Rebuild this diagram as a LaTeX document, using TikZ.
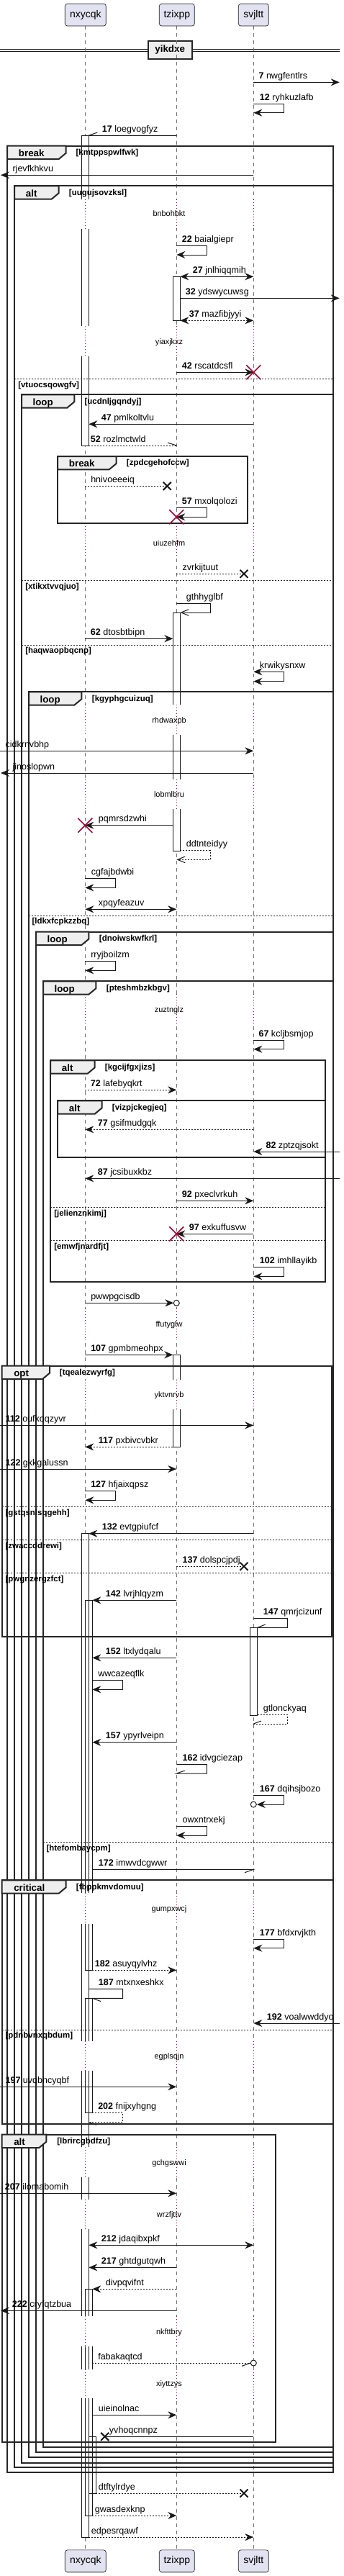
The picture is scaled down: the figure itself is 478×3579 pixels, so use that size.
\documentclass[tikz,border=0pt]{standalone}
\usepackage{fontspec}
\setmainfont{Liberation Sans}
\usetikzlibrary{arrows.meta}
\definecolor{linec}{HTML}{181818}
\definecolor{partfill}{HTML}{E2E2F0}
\definecolor{tabfill}{HTML}{EEEEEE}
\definecolor{crimson}{HTML}{A80036}
\begin{document}
\begin{tikzpicture}[x=0.75pt,y=-0.75pt,
    lbl/.style={anchor=base west,inner sep=0pt,font=\fontsize{9.4}{11}\selectfont},
    cond/.style={anchor=base west,inner sep=0pt,font=\bfseries\fontsize{8.6}{10}\selectfont},
    tablbl/.style={anchor=base west,inner sep=0pt,font=\bfseries\fontsize{10}{12}\selectfont},
    delaytxt/.style={anchor=base,inner sep=0pt,font=\fontsize{8.2}{10}\selectfont},
    part/.style={draw=linec,line width=0.5pt,fill=partfill,rounded corners=2.5pt,
        minimum height=23pt,inner sep=0pt,font=\fontsize{10.5}{12}\selectfont},
    msg/.style={draw=linec,line width=0.75pt},
    ret/.style={msg,dash pattern=on 1.5pt off 1.5pt},
    life/.style={draw=black!55,line width=0.6pt,dash pattern=on 3.75pt off 3.75pt},
    wait/.style={draw=crimson,line width=0.7pt,dash pattern=on 0.75pt off 2.25pt},
    frame/.style={draw=black!85,line width=1.5pt},
    tab/.style={frame,fill=tabfill},
    elseline/.style={draw=black!85,line width=0.75pt,dash pattern=on 1.5pt off 1.5pt},
    act/.style={draw=linec,line width=0.75pt},
    lost/.style={draw=linec,line width=1.5pt},
    kill/.style={draw=crimson,line width=1.2pt},
    circ/.style={draw=linec,line width=0.75pt,fill=white},
    openhead/.style={-{Straight Barb[length=8pt,width=6.5pt]}},
    >={Stealth[length=9pt,width=7.5pt,inset=3pt]}]
\useasboundingbox (0,0) rectangle (478,3579);

% divider
\draw[msg] (0,68.3) -- (471.7,68.3) (0,71.3) -- (471.7,71.3);
\draw[tab] (205.7,57.3) rectangle (266.7,81.7);
\node[inner sep=0pt,font=\bfseries\fontsize{10}{12}\selectfont] (yikdxe) at (236.2,69.5) {yikdxe};

% lifelines and delays
\draw[life] (118.3,36) -- (118.3,3542.3);
\draw[life] (245.3,36) -- (245.3,3542.3);
\draw[life] (352.3,36) -- (352.3,3542.3);
\foreach \a/\b/\t/\w in {276.7/318.3/297/bnbohbkt,453.3/495/475/yiaxjkxz,
    726.7/773.3/755/uiuzehfm,979.3/1021/1001/rhdwaxpb,1082.7/1124/1104/lobmlbru,
    1381.3/1423/1403.3/zuztnglz,1818/1860/1840/ffutyglw,1916.7/1958.3/1938.3/yktvnrvb,
    2630/2672.7/2652.3/gumpxwcj,2836/2877.3/2857.3/egplsqjn,2983.3/3025/3005/gchgswwi,
    3055.7/3097.3/3077.3/wrzfjttv,3218.3/3260/3240/nkfttbry,3291.7/3332.3/3312.3/xiyttzys}{
  \foreach \x in {118.3,245.3,352.3}{
    \fill[white] (\x-2,\a) rectangle (\x+2,\b);
    \draw[wait] (\x,\a) -- (\x,\b);
  }
  \node[delaytxt] (\w) at (235,\t+3.5) {\w};
}

% activations
\fill[white] (113.3,188.3) rectangle (123.3,276.7) (113.3,318.3) rectangle (123.3,453.3)
  (113.3,495) rectangle (123.3,619);
\draw[act] (113.3,276.7) -- (113.3,188.3) -- (123.3,188.3) -- (123.3,276.7);
\draw[act] (113.3,318.3) -- (113.3,453.3) (123.3,318.3) -- (123.3,453.3);
\draw[act] (113.3,495) -- (113.3,619) -- (123.3,619) -- (123.3,495);
\draw[act,fill=white] (240.3,384.3) rectangle (250.3,445.3);
\fill[white] (240.3,851) rectangle (250.3,979.3) (240.3,1021) rectangle (250.3,1082.7)
  (240.3,1124) rectangle (250.3,1182.3);
\draw[act] (240.3,979.3) -- (240.3,851) -- (250.3,851) -- (250.3,979.3);
\draw[act] (240.3,1021) -- (240.3,1082.7) (250.3,1021) -- (250.3,1082.7);
\draw[act] (240.3,1124) -- (240.3,1182.3) -- (250.3,1182.3) -- (250.3,1124);
\fill[white] (240.3,1882.3) rectangle (250.3,1916.7) (240.3,1958.3) rectangle (250.3,2010.3);
\draw[act] (240.3,1916.7) -- (240.3,1882.3) -- (250.3,1882.3) -- (250.3,1916.7);
\draw[act] (240.3,1958.3) -- (240.3,2010.3) -- (250.3,2010.3) -- (250.3,1958.3);
\draw[act,fill=white] (347.7,2261.3) rectangle (357.7,2383);
\fill[white] (113.3,2130.7) rectangle (123.3,2630) (113.3,2672.7) rectangle (123.3,2836)
  (113.3,2877.3) rectangle (123.3,2983.3) (113.3,3025) rectangle (123.3,3055.7)
  (113.3,3097.3) rectangle (123.3,3218.3) (113.3,3260) rectangle (123.3,3291.7)
  (113.3,3332.3) rectangle (123.3,3525);
\fill[white] (118.3,2223.3) rectangle (128.3,2630) (118.3,2672.7) rectangle (128.3,2737.3)
  (118.3,2776.3) rectangle (128.3,2836) (118.3,2877.3) rectangle (128.3,2935.7)
  (118.3,3180.3) rectangle (128.3,3218.3) (118.3,3260) rectangle (128.3,3291.7)
  (118.3,3332.3) rectangle (128.3,3495) (123.3,3385.3) rectangle (133.3,3464);
\draw[act] (113.3,2630) -- (113.3,2130.7) -- (123.3,2130.7) -- (123.3,2630);
\draw[act] (113.3,2672.7) -- (113.3,2836) (123.3,2672.7) -- (123.3,2836);
\draw[act] (113.3,2877.3) -- (113.3,2983.3) (123.3,2877.3) -- (123.3,2983.3);
\draw[act] (113.3,3025) -- (113.3,3055.7) (123.3,3025) -- (123.3,3055.7);
\draw[act] (113.3,3097.3) -- (113.3,3218.3) (123.3,3097.3) -- (123.3,3218.3);
\draw[act] (113.3,3260) -- (113.3,3291.7) (123.3,3260) -- (123.3,3291.7);
\draw[act] (113.3,3332.3) -- (113.3,3525) -- (123.3,3525) -- (123.3,3332.3);
\draw[act] (118.3,2630) -- (118.3,2223.3) -- (128.3,2223.3) -- (128.3,2630);
\draw[act] (118.3,2672.7) -- (118.3,2737.3) -- (128.3,2737.3) -- (128.3,2672.7);
\draw[act] (118.3,2836) -- (118.3,2776.3) -- (128.3,2776.3) -- (128.3,2836);
\draw[act] (118.3,2877.3) -- (118.3,2935.7) -- (128.3,2935.7) -- (128.3,2877.3);
\draw[act] (118.3,3218.3) -- (118.3,3180.3) -- (128.3,3180.3) -- (128.3,3218.3);
\draw[act] (118.3,3260) -- (118.3,3291.7) (128.3,3260) -- (128.3,3291.7);
\draw[act] (118.3,3332.3) -- (118.3,3495) -- (128.3,3495) -- (128.3,3332.3);
\draw[act] (123.3,3385.3) rectangle (133.3,3464);

% groups
\draw[frame] (10,202.7) rectangle (462.7,3435.3);
\draw[tab] (10,202.7) -- (91.7,202.7) -- (91.7,212.7) -- (81.7,221) -- (10,221) -- cycle;
\node[tablbl] (break1) at (25.7,217.3) {break};
\node[cond] (kmtppspwlfwk) at (105.3,215.3) {[kmtppspwlfwk]};

\draw[frame] (20,258.3) rectangle (462.7,3428.3);
\draw[tab] (20,258.3) -- (81.7,258.3) -- (81.7,268.3) -- (71.7,276.6) -- (20,276.6) -- cycle;
\node[tablbl] (alt1) at (35.7,273) {alt};
\node[cond] (uugujsovzksl) at (95.7,271) {[uugujsovzksl]};
\draw[elseline] (20,526.3) -- (462.7,526.3);
\node[cond] (vtuocsqowgfv) at (25,538) {[vtuocsqowgfv]};

\draw[frame] (30,548.3) rectangle (462.7,3421.7);
\draw[tab] (30,548.3) -- (103.3,548.3) -- (103.3,558.3) -- (93.3,566.6) -- (30,566.6) -- cycle;
\node[tablbl] (loop1) at (45.3,563) {loop};
\node[cond] (ucdnljgqndyj) at (117.3,561) {[ucdnljgqndyj]};
\draw[elseline] (30,806.3) -- (462.7,806.3);
\node[cond] (xtikxtvvqjuo) at (35,818) {[xtikxtvvqjuo]};
\draw[elseline] (30,896) -- (462.7,896);
\node[cond] (haqwaopbqcnp) at (35,907.7) {[haqwaopbqcnp]};

\draw[frame] (80,634) rectangle (344.3,726.7);
\draw[tab] (80,634) -- (161.7,634) -- (161.7,644) -- (151.7,652.3) -- (80,652.3) -- cycle;
\node[tablbl] (break2) at (95.7,648.7) {break};
\node[cond] (zpdcgehofccw) at (175.7,646.7) {[zpdcgehofccw]};

\draw[frame] (40,961.3) rectangle (462.7,3414.3);
\draw[tab] (40,961.3) -- (113.3,961.3) -- (113.3,971.3) -- (103.3,979.6) -- (40,979.6) -- cycle;
\node[tablbl] (loop2) at (55.3,976) {loop};
\node[cond] (kgyphgcuizuq) at (127.7,974) {[kgyphgcuizuq]};
\draw[elseline] (40,1272) -- (462.7,1272);
\node[cond] (ldkxfcpkzzbq) at (44.3,1283.7) {[ldkxfcpkzzbq]};

\draw[frame] (50,1294.7) rectangle (462.7,3407.3);
\draw[tab] (50,1294.7) -- (123.3,1294.7) -- (123.3,1304.7) -- (113.3,1313) -- (50,1313) -- cycle;
\node[tablbl] (loop3) at (65.3,1309.4) {loop};
\node[cond] (dnoiwskwfkrl) at (137.7,1307.4) {[dnoiwskwfkrl]};

\draw[frame] (60,1363.3) rectangle (462.7,3400);
\draw[tab] (60,1363.3) -- (133.3,1363.3) -- (133.3,1373.3) -- (123.3,1381.6) -- (60,1381.6) -- cycle;
\node[tablbl] (loop4) at (75.3,1378) {loop};
\node[cond] (pteshmbzkbgv) at (147.7,1376) {[pteshmbzkbgv]};
\draw[elseline] (60,2559.3) -- (462.7,2559.3);
\node[cond] (htefombaycpm) at (64.3,2571) {[htefombaycpm]};

\draw[frame] (70,1473.3) rectangle (451.7,1781);
\draw[tab] (70,1473.3) -- (131.7,1473.3) -- (131.7,1483.3) -- (121.7,1491.6) -- (70,1491.6) -- cycle;
\node[tablbl] (alt2) at (85.7,1488) {alt};
\node[cond] (kgcijfgxjizs) at (145.7,1486) {[kgcijfgxjizs]};
\draw[elseline] (70,1677.3) -- (451.7,1677.3);
\node[cond] (jelienznkimj) at (75,1689) {[jelienznkimj]};
\draw[elseline] (70,1723.3) -- (451.7,1723.3);
\node[cond] (emwfjnardfjt) at (75,1735) {[emwfjnardfjt]};

\draw[frame] (80,1529.3) rectangle (451.7,1608.3);
\draw[tab] (80,1529.3) -- (141.7,1529.3) -- (141.7,1539.3) -- (131.7,1547.6) -- (80,1547.6) -- cycle;
\node[tablbl] (alt3) at (95.7,1544) {alt};
\node[cond] (vizpjckegjeq) at (155.7,1542) {[vizpjckegjeq]};

\draw[frame] (2.7,1897.7) rectangle (461,2273.7);
\draw[tab] (2.7,1897.7) -- (69,1897.7) -- (69,1907.7) -- (59,1916) -- (2.7,1916) -- cycle;
\node[tablbl] (opt1) at (19,1912.4) {opt};
\node[cond] (tqealezwyrfg) at (82.7,1910.4) {[tqealezwyrfg]};
\draw[elseline] (2.7,2093.3) -- (461,2093.3);
\node[cond] (gstqsnlsqgehh) at (7.3,2105) {[gstqsnlsqgehh]};
\draw[elseline] (2.7,2139.3) -- (461,2139.3);
\node[cond] (zwaccddrewi) at (7.3,2151) {[zwaccddrewi]};
\draw[elseline] (2.7,2185.3) -- (461,2185.3);
\node[cond] (pwgnzergzfct) at (7.3,2197) {[pwgnzergzfct]};

\draw[frame] (2.7,2612.3) rectangle (462.7,2950.7);
\draw[tab] (2.7,2612.3) -- (91.7,2612.3) -- (91.7,2622.3) -- (81.7,2630.6) -- (2.7,2630.6) -- cycle;
\node[tablbl] (critical1) at (19,2627) {critical};
\node[cond] (fbppkmvdomuu) at (105.7,2625) {[fbppkmvdomuu]};
\draw[elseline] (2.7,2820) -- (462.7,2820);
\node[cond] (pdnbvnxqbdum) at (7.3,2831.7) {[pdnbvnxqbdum]};

\draw[frame] (2.7,2965.7) rectangle (383.3,3393.3);
\draw[tab] (2.7,2965.7) -- (64.3,2965.7) -- (64.3,2975.7) -- (54.3,2984) -- (2.7,2984) -- cycle;
\node[tablbl] (alt4) at (19,2980.4) {alt};
\node[cond] (lbrircgbdfzu) at (79,2978.4) {[lbrircgbdfzu]};

% messages
\draw[msg,->] (352.3,114.3) -- (471.7,114.3);
\node[lbl] (nwgfentlrs) at (359.3,109.3) {\textbf{7} nwgfentlrs};
\draw[msg,->] (352.3,144.3) -- (394.3,144.3) -- (394.3,156.7) -- (352.3,156.7);
\node[lbl] (ryhkuzlafb) at (360.7,139.3) {\textbf{12} ryhkuzlafb};
\draw[msg] (245.3,188.3) -- (123.3,188.3) -- (135.3,184);
\node[lbl] (loegvogfyz) at (141.7,183.3) {\textbf{17} loegvogfyz};
\draw[msg,->] (352.3,243.3) -- (1,243.3);
\node[lbl] (rjevfkhkvu) at (17.3,238.3) {rjevfkhkvu};
\draw[msg,->] (245.3,341.7) -- (287.3,341.7) -- (287.3,354) -- (245.3,354);
\node[lbl] (baialgiepr) at (252.7,336.7) {\textbf{22} baialgiepr};
\draw[msg,<->] (250.3,384.3) -- (352.3,384.3);
\node[lbl] (jnlhiqqmih) at (267.7,379.3) {\textbf{27} jnlhiqqmih};
\draw[msg,->] (250.3,414.3) -- (471.7,414.3);
\node[lbl] (ydswycuwsg) at (257.7,409.3) {\textbf{32} ydswycuwsg};
\draw[ret,<->] (250.3,445.3) -- (352.3,445.3);
\node[lbl] (mazfibjyyi) at (262.7,440.3) {\textbf{37} mazfibjyyi};
\draw[msg,->] (245.3,517.3) -- (352.3,517.3);
\draw[kill] (342.3,507.3) -- (362.3,527.3) (342.3,527.3) -- (362.3,507.3);
\node[lbl] (rscatdcsfl) at (252.7,512.3) {\textbf{42} rscatdcsfl};
\draw[msg,->] (352.3,589.3) -- (123.3,589.3);
\node[lbl] (pmlkoltvlu) at (140.7,584.3) {\textbf{47} pmlkoltvlu};
\draw[ret] (123.3,619) -- (245.3,619);
\draw[msg] (245.3,619) -- (233,615);
\node[lbl] (rozlmctwld) at (125.7,614) {\textbf{52} rozlmctwld};
\draw[ret] (118.3,675.3) -- (232.3,675.3);
\draw[lost] (226.8,669.8) -- (237.8,680.8) (226.8,680.8) -- (237.8,669.8);
\node[lbl] (hnivoeeeiq) at (126,670.3) {hnivoeeeiq};
\draw[msg,->] (245.3,705.7) -- (287.3,705.7) -- (287.3,718.3) -- (245.3,718.3);
\draw[kill] (235.3,708.3) -- (255.3,728.3) (235.3,728.3) -- (255.3,708.3);
\node[lbl] (mxolqolozi) at (252.7,700.7) {\textbf{57} mxolqolozi};
\draw[ret] (245.3,797.3) -- (339,797.3);
\draw[lost] (333.5,791.8) -- (344.5,802.8) (333.5,802.8) -- (344.5,791.8);
\node[lbl] (zvrkijtuut) at (253.3,792.3) {zvrkijtuut};
\draw[msg,openhead] (245.3,838.3) -- (292.3,838.3) -- (292.3,851) -- (250.3,851);
\node[lbl] (gthhyglbf) at (258.7,833.3) {gthhyglbf};
\draw[msg,->] (118.3,887.3) -- (240.3,887.3);
\node[lbl] (dtosbtbipn) at (125.7,882.3) {\textbf{62} dtosbtbipn};
\draw[msg,<->] (352.3,933.3) -- (394.3,933.3) -- (394.3,946.7) -- (352.3,946.7);
\node[lbl] (krwikysnxw) at (360.7,928.3) {krwikysnxw};
\draw[msg,->] (0,1043.3) -- (352.3,1043.3);
\node[lbl] (cidkrnvbhp) at (7.3,1038.3) {cidkrnvbhp};
\draw[msg,->] (352.3,1074) -- (1,1074);
\node[lbl] (jinoslopwn) at (17.3,1069) {jinoslopwn};
\draw[msg,->] (240.3,1146.7) -- (118.3,1146.7);
\draw[kill] (108.3,1136.7) -- (128.3,1156.7) (108.3,1156.7) -- (128.3,1136.7);
\node[lbl] (pqmrsdzwhi) at (136.7,1141.7) {pqmrsdzwhi};
\draw[ret,openhead] (250.3,1181.7) -- (292.3,1181.7) -- (292.3,1194.3) -- (245.3,1194.3);
\node[lbl] (ddtnteidyy) at (258.7,1176.7) {ddtnteidyy};
\draw[msg,->] (118.3,1220.7) -- (160.7,1220.7) -- (160.7,1233.3) -- (118.3,1233.3);
\node[lbl] (cgfajbdwbi) at (126.7,1215.7) {cgfajbdwbi};
\draw[msg,<->] (118.3,1263.3) -- (245.3,1263.3);
\node[lbl] (xpqyfeazuv) at (136.7,1258.3) {xpqyfeazuv};
\draw[msg,->] (118.3,1335.7) -- (160.7,1335.7) -- (160.7,1348.3) -- (118.3,1348.3);
\node[lbl] (rryjboilzm) at (126,1330.7) {rryjboilzm};
\draw[msg,->] (352.3,1445.7) -- (394.3,1445.7) -- (394.3,1457.7) -- (352.3,1457.7);
\node[lbl] (kcljbsmjop) at (359.3,1440.7) {\textbf{67} kcljbsmjop};
\draw[ret,->] (118.3,1514.3) -- (245.3,1514.3);
\node[lbl] (lafebyqkrt) at (125.7,1509.3) {\textbf{72} lafebyqkrt};
\draw[ret,->] (352.3,1569.3) -- (118.3,1569.3);
\node[lbl] (gsifmudgqk) at (135.7,1564.3) {\textbf{77} gsifmudgqk};
\draw[msg,->] (471.7,1600) -- (352.3,1600);
\node[lbl] (zptzqjsokt) at (369.3,1595) {\textbf{82} zptzqjsokt};
\draw[msg,->] (471.7,1637.3) -- (118.3,1637.3);
\node[lbl] (jcsibuxkbz) at (135.7,1632.3) {\textbf{87} jcsibuxkbz};
\draw[msg,->] (245.3,1668.3) -- (352.3,1668.3);
\node[lbl] (pxeclvrkuh) at (252.7,1663.3) {\textbf{92} pxeclvrkuh};
\draw[msg,->] (352.3,1714.3) -- (245.3,1714.3);
\draw[kill] (235.3,1704.3) -- (255.3,1724.3) (235.3,1724.3) -- (255.3,1704.3);
\node[lbl] (exkuffusvw) at (262.7,1709.3) {\textbf{97} exkuffusvw};
\draw[msg,->] (352.3,1760.7) -- (394.3,1760.7) -- (394.3,1773.3) -- (352.3,1773.3);
\node[lbl] (imhllayikb) at (360.7,1755.7) {\textbf{102} imhllayikb};
\draw[msg,->] (118.3,1810.3) -- (241.3,1810.3);
\draw[circ] (245.3,1810.3) circle[radius=3pt];
\node[lbl] (pwwpgcisdb) at (126,1805.3) {pwwpgcisdb};
\draw[msg,->] (118.3,1882.3) -- (240.3,1882.3);
\node[lbl] (gpmbmeohpx) at (126,1877.3) {\textbf{107} gpmbmeohpx};
\draw[msg,->] (0,1980.3) -- (352.3,1980.3);
\node[lbl] (oufkoqzyvr) at (7.3,1975.3) {\textbf{112} oufkoqzyvr};
\draw[ret,->] (240.3,2010.3) -- (118.3,2010.3);
\node[lbl] (pxbivcvbkr) at (136.7,2005.3) {\textbf{117} pxbivcvbkr};
\draw[msg,->] (0,2041) -- (245.3,2041);
\node[lbl] (gkkgalussn) at (7.3,2036) {\textbf{122} gkkgalussn};
\draw[msg,->] (118.3,2071.7) -- (160.7,2071.7) -- (160.7,2084.3) -- (118.3,2084.3);
\node[lbl] (hfjaixqpsz) at (126,2066.7) {\textbf{127} hfjaixqpsz};
\draw[msg,->] (352.3,2130.7) -- (123.3,2130.7);
\node[lbl] (evtgpiufcf) at (141.7,2125.7) {\textbf{132} evtgpiufcf};
\draw[ret] (245.3,2176.3) -- (339,2176.3);
\draw[lost] (333.5,2170.8) -- (344.5,2181.8) (333.5,2181.8) -- (344.5,2170.8);
\node[lbl] (dolspcjpdj) at (253.3,2171.3) {\textbf{137} dolspcjpdj};
\draw[msg,->] (245.3,2223.3) -- (128.3,2223.3);
\node[lbl] (lvrjhlqyzm) at (146.7,2218.3) {\textbf{142} lvrjhlqyzm};
\draw[msg] (352.3,2248.7) -- (399.3,2248.7) -- (399.3,2261.3) -- (357.7,2261.3) -- (368.7,2257);
\node[lbl] (qmrjcizunf) at (365.7,2243.7) {\textbf{147} qmrjcizunf};
\draw[msg,->] (245.3,2303.3) -- (128.3,2303.3);
\node[lbl] (ltxlydqalu) at (146.7,2298.3) {\textbf{152} ltxlydqalu};
\draw[msg,->] (128.3,2334.3) -- (170.7,2334.3) -- (170.7,2347.3) -- (128.3,2347.3);
\node[lbl] (wwcazeqflk) at (136,2329.3) {wwcazeqflk};
\draw[ret] (357.7,2382.3) -- (399.3,2382.3) -- (399.3,2395) -- (352.3,2395);
\draw[msg] (352.3,2395) -- (363,2391);
\node[lbl] (gtlonckyaq) at (365.7,2377.3) {gtlonckyaq};
\draw[msg,->] (245.3,2420.7) -- (128.3,2420.7);
\node[lbl] (ypyrlveipn) at (146.7,2415.7) {\textbf{157} ypyrlveipn};
\draw[msg] (245.3,2451.7) -- (287.3,2451.7) -- (287.3,2464) -- (245.3,2464) -- (256.7,2460);
\node[lbl] (idvgciezap) at (253.3,2446.7) {\textbf{162} idvgciezap};
\draw[msg,->] (352.3,2494.7) -- (394.3,2494.7) -- (394.3,2507) -- (356.8,2507);
\draw[circ] (352.3,2507) circle[radius=3pt];
\node[lbl] (dqihsjbozo) at (360.7,2489.7) {\textbf{167} dqihsjbozo};
\draw[msg,->] (245.3,2537.3) -- (287.3,2537.3) -- (287.3,2550) -- (245.3,2550);
\node[lbl] (owxntrxekj) at (253.3,2532.3) {owxntrxekj};
\draw[msg] (128.3,2597.3) -- (352.3,2597.3) -- (340,2601.7);
\node[lbl] (imwvdcgwwr) at (136.7,2592.3) {\textbf{172} imwvdcgwwr};
\draw[msg,->] (352.3,2694.3) -- (394.3,2694.3) -- (394.3,2706.7) -- (352.3,2706.7);
\node[lbl] (bfdxrvjkth) at (360.7,2689.3) {\textbf{177} bfdxrvjkth};
\draw[ret,->] (128.3,2737.3) -- (245.3,2737.3);
\node[lbl] (asuyqylvhz) at (131.7,2732.3) {\textbf{182} asuyqylvhz};
\draw[msg] (123.3,2763.3) -- (170.7,2763.3) -- (170.7,2776.3) -- (128.3,2776.3) -- (140,2780.5);
\node[lbl] (mtxnxeshkx) at (136.7,2758.3) {\textbf{187} mtxnxeshkx};
\draw[msg,->] (471.7,2811) -- (352.3,2811);
\node[lbl] (voalwwddyo) at (370.7,2806) {\textbf{192} voalwwddyo};
\draw[msg,->] (0,2899.3) -- (245.3,2899.3);
\node[lbl] (uvqbncyqbf) at (7.3,2894.3) {\textbf{197} uvqbncyqbf};
\draw[ret] (128.3,2935.7) -- (170.7,2935.7) -- (170.7,2948.3) -- (123.3,2948.3);
\draw[msg] (123.3,2948.3) -- (134,2952.3);
\node[lbl] (fnijxyhgng) at (136,2930.7) {\textbf{202} fnijxyhgng};
\draw[msg,->] (0,3047.3) -- (245.3,3047.3);
\node[lbl] (ilomabomih) at (6.7,3042.3) {\textbf{207} ilomabomih};
\draw[msg,<->] (123.3,3119.3) -- (352.3,3119.3);
\node[lbl] (jdaqibxpkf) at (140.7,3114.3) {\textbf{212} jdaqibxpkf};
\draw[msg,->] (245.3,3150.3) -- (123.3,3150.3);
\node[lbl] (ghtdgutqwh) at (140.7,3145.3) {\textbf{217} ghtdgutqwh};
\draw[ret,->] (245.3,3180.3) -- (128.3,3180.3);
\node[lbl] (divpqvifnt) at (146.7,3175.3) {divpqvifnt};
\draw[msg,->] (245.3,3210.3) -- (1,3210.3);
\node[lbl] (cryfqtzbua) at (16.7,3205.3) {\textbf{222} cryfqtzbua};
\draw[ret] (128.3,3283) -- (348.3,3283);
\draw[msg] (348.3,3283) -- (336,3287.3);
\draw[circ] (352.3,3283) circle[radius=3pt];
\node[lbl] (fabakaqtcd) at (136,3278) {fabakaqtcd};
\draw[msg,->] (128.3,3355.3) -- (245.3,3355.3);
\node[lbl] (uieinolnac) at (136.7,3350.3) {uieinolnac};
\draw[msg] (352.3,3385.3) -- (145.7,3385.3);
\draw[lost] (140.2,3379.8) -- (151.2,3390.8) (140.2,3390.8) -- (151.2,3379.8);
\node[lbl] (yvhoqcnnpz) at (151.7,3380.3) {yvhoqcnnpz};
\draw[ret] (133.3,3464) -- (339,3464);
\draw[lost] (333.5,3458.5) -- (344.5,3469.5) (333.5,3469.5) -- (344.5,3458.5);
\node[lbl] (dtftylrdye) at (136.7,3459) {dtftylrdye};
\draw[ret,->] (128.3,3495) -- (245.3,3495);
\node[lbl] (gwasdexknp) at (131.7,3490) {gwasdexknp};
\draw[ret,->] (123.3,3525) -- (352.3,3525);
\node[lbl] (edpesrqawf) at (126.7,3520) {edpesrqawf};

% participants
\node[part,minimum width=42.75pt] (nxycqk) at (118.8,20.65) {nxycqk};
\node[part,minimum width=36.75pt] (tzixpp) at (245.8,20.65) {tzixpp};
\node[part,minimum width=31.5pt] (svjltt) at (352.3,20.65) {svjltt};
\node[part,minimum width=42.75pt] (nxycqkb) at (118.8,3558.2) {nxycqk};
\node[part,minimum width=36.75pt] (tzixppb) at (245.8,3558.2) {tzixpp};
\node[part,minimum width=31.5pt] (svjlttb) at (352.3,3558.2) {svjltt};
\end{tikzpicture}
\end{document}
